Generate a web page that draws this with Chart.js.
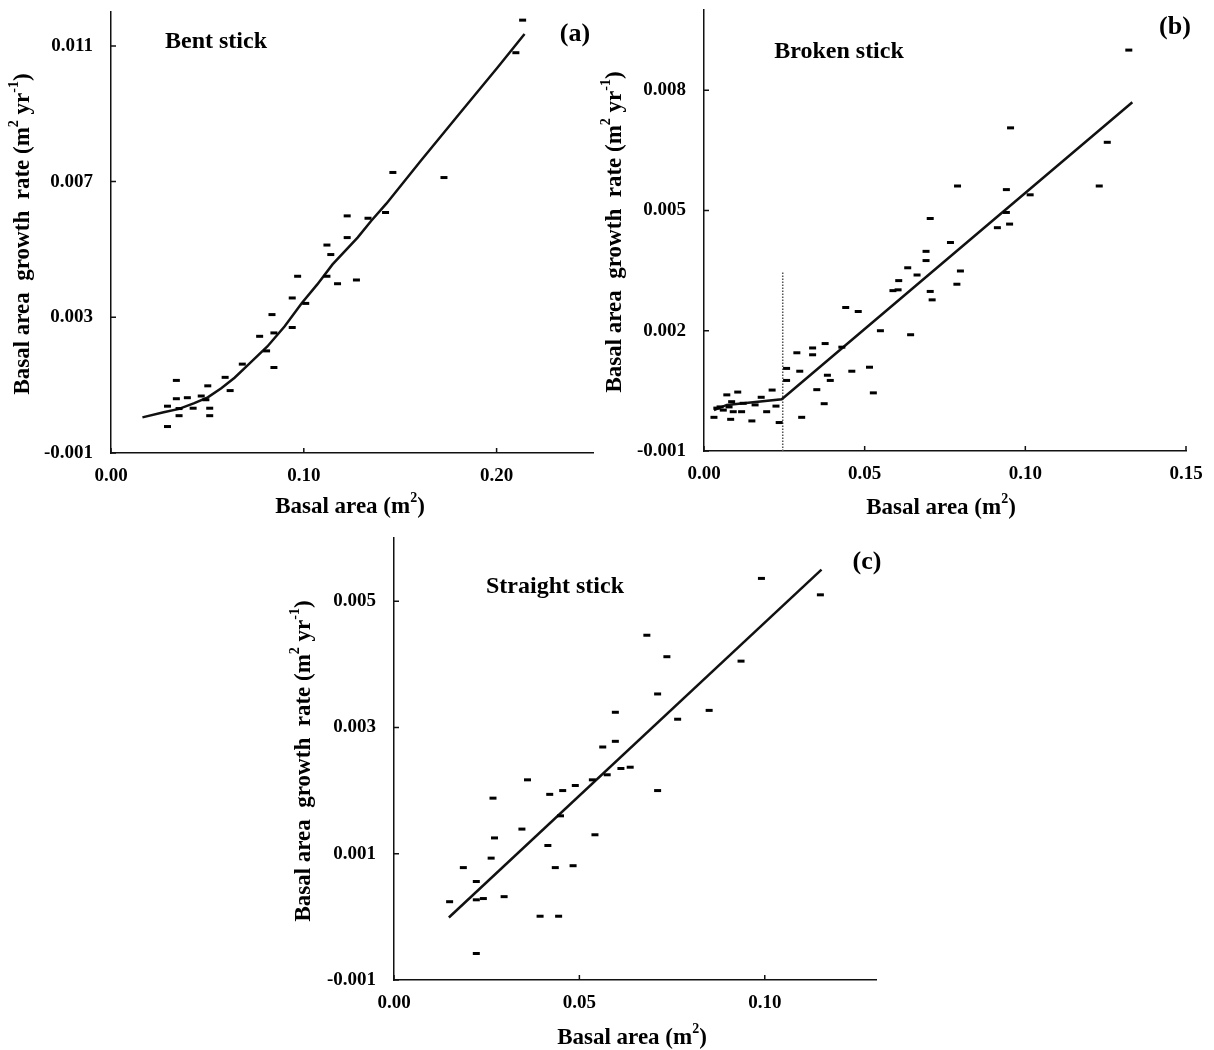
<!DOCTYPE html>
<html>
<head>
<meta charset="utf-8">
<title>Basal area growth models</title>
<script src="https://cdn.jsdelivr.net/npm/chart.js@4.4.0/dist/chart.umd.min.js"></script>
<style>
  body { margin: 0; background: #fff; }
  #wrap { position: relative; width: 1214px; height: 1050px; background: #fff; }
  canvas { position: absolute; }
</style>
</head>
<body>
<div id="wrap">
  <canvas id="bentChart" width="600" height="525" style="left:0;top:0;width:600px;height:525px"></canvas>
  <canvas id="brokenChart" width="614" height="525" style="left:600px;top:0;width:614px;height:525px"></canvas>
  <canvas id="straightChart" width="620" height="520" style="left:280px;top:530px;width:620px;height:520px"></canvas>
</div>
<script>
// (a) bent stick: observed trees and fitted curve
const bentX = [0.2135, 0.2100, 0.1462, 0.1727, 0.1424, 0.1333, 0.1225, 0.1225, 0.1120, 0.1140,
  0.1120, 0.1175, 0.1273, 0.0968, 0.0940, 0.1010, 0.0940, 0.0835, 0.0845, 0.0771,
  0.0807, 0.0845, 0.0681, 0.0592, 0.0618, 0.0502, 0.0492, 0.0468, 0.0512, 0.0512,
  0.0396, 0.0426, 0.0339, 0.0339, 0.0353, 0.0353, 0.0293, 0.0293];
const bentY = [0.01176, 0.0108, 0.00727, 0.00712, 0.00609, 0.00592, 0.00599, 0.00535, 0.00513, 0.00485,
  0.00421, 0.00399, 0.0041, 0.00421, 0.00357, 0.00341, 0.0027, 0.00308, 0.00254, 0.00244,
  0.00201, 0.00152, 0.00162, 0.00123, 0.00084, 0.00098, 0.00057, 0.00068, 0.00032, 0.0001,
  0.00063, 0.00032, 0.00114, 0.0006, 0.00031, 0.0001, 0.00038, -0.00022];
const bentFitX = [0.0163, 0.0273, 0.0353, 0.0432, 0.0502, 0.0572, 0.0641, 0.0711, 0.0811, 0.0900,
  0.0990, 0.1070, 0.1149, 0.1279, 0.1349, 0.1428, 0.1608, 0.1807, 0.2006, 0.2145];
const bentFitY = [0.00005, 0.0002, 0.0003, 0.00047, 0.00064, 0.00091, 0.00122, 0.0016, 0.00214, 0.00273,
  0.00342, 0.00397, 0.00456, 0.00535, 0.00584, 0.00635, 0.00762, 0.00900, 0.01037, 0.01135];
const bentXLabels = ['0.00', '0.10', '0.20'];
const bentYLabels = ['-0.001', '0.003', '0.007', '0.011'];

// (b) broken stick: observed trees, two-segment fit, breakpoint
const brokenX = [0.1322, 0.0954, 0.1255, 0.1230, 0.0789, 0.0941, 0.1015, 0.0941, 0.0913, 0.0951,
  0.0704, 0.0767, 0.0691, 0.0691, 0.0634, 0.0663, 0.0606, 0.0588, 0.0604, 0.0704,
  0.0710, 0.0798, 0.0787, 0.0441, 0.0480, 0.0643, 0.0549, 0.0429, 0.0377, 0.0338,
  0.0338, 0.0289, 0.0298, 0.0257, 0.0257, 0.0460, 0.0515, 0.0527, 0.0384, 0.0393,
  0.0351, 0.0374, 0.0304,
  0.0031, 0.0083, 0.0149, 0.0234, 0.0195, 0.0224, 0.0178, 0.0212, 0.0105, 0.0071,
  0.0086, 0.0122, 0.0159, 0.0040, 0.0060, 0.0091, 0.0117, 0.0050, 0.0078];
const brokenY = [0.0090, 0.00706, 0.0067, 0.00561, 0.00561, 0.00552, 0.00539, 0.00495, 0.00457, 0.00466,
  0.0048, 0.0042, 0.00398, 0.00375, 0.00357, 0.00339, 0.00325, 0.0030, 0.00302, 0.00298,
  0.00277, 0.00349, 0.00316, 0.00258, 0.00248, 0.0019, 0.0020, 0.00159, 0.00168, 0.00157,
  0.0014, 0.00145, 0.00099, 0.00106, 0.00076, 0.00099, 0.00109, 0.00045, 0.00089, 0.00076,
  0.00053, 0.00018, -0.00016,
  -0.00016, -0.00021, -0.00025, -0.00029, -0.00002, 0.00012, 0.00034, 0.00052, 0.00047, 0.0004,
  0.00023, 0.00019, 0.00015, 0.00007, 0.00002, -0.00002, -0.00002, 0.0001, 0.0001];
const brokenFitX = [0.0031, 0.0071, 0.0242, 0.1333];
const brokenFitY = [0.00002, 0.00015, 0.00029, 0.0077];
const breakX = [0.0245, 0.0245];
const breakY = [-0.001, 0.00345];
const brokenXLabels = ['0.00', '0.05', '0.10', '0.15'];
const brokenYLabels = ['-0.001', '0.002', '0.005', '0.008'];

// (c) straight stick: observed trees and linear fit
const straightX = [0.0991, 0.1150, 0.0682, 0.0736, 0.0936, 0.0711, 0.0597, 0.0850, 0.0765, 0.0597,
  0.0563, 0.0612, 0.0637, 0.0575, 0.0535, 0.0711, 0.0360, 0.0489, 0.0455, 0.0420,
  0.0267, 0.0449, 0.0542, 0.0345, 0.0271, 0.0415, 0.0262, 0.0187, 0.0435, 0.0483,
  0.0222, 0.0222, 0.0241, 0.0297, 0.0150, 0.0394, 0.0444, 0.0222];
const straightY = [0.00536, 0.0051, 0.00446, 0.00412, 0.00405, 0.00353, 0.00324, 0.00327, 0.00313, 0.00278,
  0.00269, 0.00235, 0.00237, 0.00225, 0.00217, 0.0020, 0.00217, 0.00208, 0.0020, 0.00194,
  0.00188, 0.0016, 0.0013, 0.00139, 0.00125, 0.00113, 0.00093, 0.00078, 0.00078, 0.00081,
  0.00056, 0.00027, 0.00029, 0.00032, 0.00024, 0.00001, 0.00001, -0.00058];
const straightFitX = [0.0148, 0.1153];
const straightFitY = [-0.00001, 0.0055];
const straightXLabels = ['0.00', '0.05', '0.10'];
const straightYLabels = ['-0.001', '0.001', '0.003', '0.005'];

const SERIF = '"Liberation Serif", "Times New Roman", serif';
Chart.defaults.font.family = SERIF;
Chart.defaults.font.weight = 'bold';
Chart.defaults.color = '#000';

const pts = (xs, ys) => xs.map((x, i) => ({ x: x, y: ys[i] }));

function tickList(min, max, step) {
  const out = [];
  const n = Math.round((max - min) / step);
  for (let i = 0; i <= n; i++) out.push({ value: min + i * step });
  return out;
}

function labelFor(list) {
  return function (v) {
    const hit = list.find(s => Math.abs(parseFloat(s) - v) < 1e-9);
    return hit === undefined ? null : hit;
  };
}

// short tick marks pointing into the plot
const innerTicks = {
  id: 'innerTicks',
  afterDraw(chart) {
    const { ctx, chartArea: a, scales: { x, y } } = chart;
    ctx.save();
    ctx.strokeStyle = '#111';
    ctx.lineWidth = 1.5;
    ctx.beginPath();
    x.ticks.forEach(t => {
      const px = x.getPixelForValue(t.value);
      ctx.moveTo(px, a.bottom);
      ctx.lineTo(px, a.bottom - 5);
    });
    y.ticks.forEach(t => {
      const py = y.getPixelForValue(t.value);
      ctx.moveTo(a.left, py);
      ctx.lineTo(a.left + 5, py);
    });
    ctx.stroke();
    ctx.restore();
  }
};

function drawRich(ctx, it) {
  const main = 'bold ' + it.size + 'px ' + SERIF;
  const small = 'bold ' + Math.round(it.size * 0.62) + 'px ' + SERIF;
  let total = 0;
  const widths = it.parts.map(p => {
    ctx.font = p.sup ? small : main;
    const w = ctx.measureText(p.t).width;
    total += w;
    return w;
  });
  ctx.save();
  ctx.translate(it.x, it.y);
  if (it.rotate) ctx.rotate(-Math.PI / 2);
  let cx = -total / 2;
  it.parts.forEach((p, i) => {
    ctx.font = p.sup ? small : main;
    ctx.fillText(p.t, cx, p.sup ? -it.size * 0.36 : 0);
    cx += widths[i];
  });
  ctx.restore();
}

// panel names, panel letters and axis titles
const panelText = {
  id: 'panelText',
  afterDraw(chart, args, opts) {
    const ctx = chart.ctx;
    ctx.save();
    ctx.fillStyle = '#000';
    ctx.textAlign = 'left';
    ctx.textBaseline = 'middle';
    opts.items.forEach(it => drawRich(ctx, it));
    ctx.restore();
  }
};

const yTitle = [{ t: 'Basal area  growth  rate (m' }, { t: '2', sup: true }, { t: ' yr' }, { t: '-1', sup: true }, { t: ')' }];
const xTitle = [{ t: 'Basal area (m' }, { t: '2', sup: true }, { t: ')' }];

function makePanel(id, cfg) {
  const datasets = [
    {
      data: pts(cfg.xs, cfg.ys),
      pointStyle: 'line',
      pointRadius: 3.5,
      pointHoverRadius: 3.5,
      pointBorderWidth: 3,
      pointBorderColor: '#000',
      pointBackgroundColor: '#000'
    },
    {
      data: pts(cfg.fitX, cfg.fitY),
      showLine: true,
      pointRadius: 0,
      borderColor: '#111',
      borderWidth: 2.5,
      tension: 0
    }
  ].concat(cfg.extra || []);

  return new Chart(document.getElementById(id), {
    type: 'scatter',
    data: { datasets: datasets },
    options: {
      responsive: false,
      animation: false,
      devicePixelRatio: 1,
      events: [],
      layout: { autoPadding: false, padding: { left: 0, top: cfg.top, right: cfg.right, bottom: 0 } },
      plugins: {
        legend: { display: false },
        tooltip: { enabled: false },
        panelText: { items: cfg.texts }
      },
      scales: {
        x: {
          type: 'linear',
          min: cfg.xMin,
          max: cfg.xMax,
          afterBuildTicks: s => { s.ticks = tickList(cfg.xMin, cfg.xMax, cfg.xStep); },
          afterFit: s => { s.height = cfg.xAxisH; s.paddingLeft = 0; s.paddingRight = 0; },
          grid: { display: false, drawTicks: false },
          border: { display: true, color: '#111', width: 1.5 },
          ticks: {
            autoSkip: false, maxRotation: 0, padding: 12,
            font: { size: 19, weight: 'bold' },
            callback: labelFor(cfg.xLabels)
          }
        },
        y: {
          type: 'linear',
          min: cfg.yMin,
          max: cfg.yMax,
          afterBuildTicks: s => { s.ticks = tickList(cfg.yMin, cfg.yMax, cfg.yStep); },
          afterFit: s => { s.width = cfg.yAxisW; s.paddingTop = 0; s.paddingBottom = 0; },
          grid: { display: false, drawTicks: false },
          border: { display: true, color: '#111', width: 1.5 },
          ticks: {
            autoSkip: false, padding: 18,
            font: { size: 19, weight: 'bold' },
            callback: labelFor(cfg.yLabels)
          }
        }
      }
    },
    plugins: [innerTicks, panelText]
  });
}

makePanel('bentChart', {
  xs: bentX, ys: bentY, fitX: bentFitX, fitY: bentFitY,
  xMin: 0, xMax: 0.25, xStep: 0.01, yMin: -0.001, yMax: 0.012, yStep: 0.0005,
  xLabels: bentXLabels, yLabels: bentYLabels,
  top: 12, right: 7, xAxisH: 72, yAxisW: 111,
  texts: [
    { parts: [{ t: 'Bent stick' }], x: 216, y: 42, size: 24 },
    { parts: [{ t: '(a)' }], x: 575, y: 34, size: 26 },
    { parts: yTitle, x: 23, y: 234, size: 23, rotate: true },
    { parts: xTitle, x: 350, y: 507, size: 23 }
  ]
});

makePanel('brokenChart', {
  xs: brokenX, ys: brokenY, fitX: brokenFitX, fitY: brokenFitY,
  extra: [{
    data: pts(breakX, breakY),
    showLine: true,
    pointRadius: 0,
    borderColor: '#555',
    borderWidth: 1.5,
    borderDash: [1.5, 1.5]
  }],
  xMin: 0, xMax: 0.15, xStep: 0.01, yMin: -0.001, yMax: 0.010, yStep: 0.0005,
  xLabels: brokenXLabels, yLabels: brokenYLabels,
  top: 10, right: 28, xAxisH: 74, yAxisW: 104,
  texts: [
    { parts: [{ t: 'Broken stick' }], x: 239, y: 52, size: 24 },
    { parts: [{ t: '(b)' }], x: 575, y: 27, size: 26 },
    { parts: yTitle, x: 15, y: 232, size: 23, rotate: true },
    { parts: xTitle, x: 341, y: 508, size: 23 }
  ]
});

makePanel('straightChart', {
  xs: straightX, ys: straightY, fitX: straightFitX, fitY: straightFitY,
  xMin: 0, xMax: 0.13, xStep: 0.01, yMin: -0.001, yMax: 0.006, yStep: 0.0005,
  xLabels: straightXLabels, yLabels: straightYLabels,
  top: 8, right: 24, xAxisH: 70, yAxisW: 114,
  texts: [
    { parts: [{ t: 'Straight stick' }], x: 275, y: 57, size: 24 },
    { parts: [{ t: '(c)' }], x: 587, y: 32, size: 26 },
    { parts: yTitle, x: 24, y: 231, size: 23, rotate: true },
    { parts: xTitle, x: 352, y: 508, size: 23 }
  ]
});
</script>
</body>
</html>
